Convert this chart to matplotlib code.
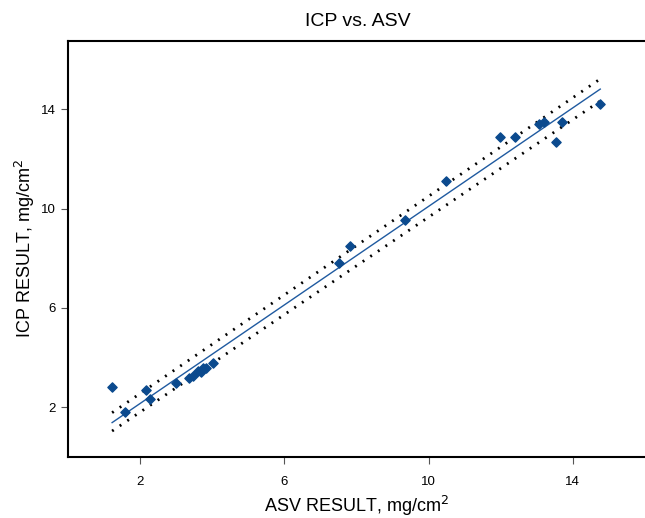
import matplotlib.pyplot as plt
import numpy as np

plt.rcParams['font.family'] = ['Liberation Sans', 'DejaVu Sans']

# ASV vs ICP results (mg/cm^2)
asv = [1.23, 1.60, 2.16, 2.28, 3.01, 3.35, 3.46, 3.60, 3.69, 3.75, 3.82, 4.03,
       7.52, 7.83, 9.35, 10.49, 11.97, 12.40, 13.05, 13.21, 13.53, 13.69, 14.76]
icp = [2.81, 1.80, 2.70, 2.35, 2.97, 3.18, 3.25, 3.45, 3.42, 3.57, 3.58, 3.80,
       7.80, 8.51, 9.54, 11.09, 12.89, 12.89, 13.40, 13.50, 12.69, 13.49, 14.19]

# fitted line and band ends
fit_x = [1.23, 14.76]
fit_y = [1.38, 14.81]
upper_y = [1.78, 15.22]
lower_y = [1.04, 14.33]

ticks = [2, 6, 10, 14]

fig = plt.figure(figsize=(6.45, 5.18), dpi=100)
ax = fig.add_axes([0.105, 0.118, 0.895, 0.803])

ax.plot(fit_x, upper_y, color='black', lw=2, dashes=(0.7, 2.6))
ax.plot(fit_x, lower_y, color='black', lw=2, dashes=(0.7, 2.6))
ax.plot(fit_x, fit_y, color='#1f5aa0', lw=1)
ax.scatter(asv, icp, marker='D', s=22, color='#0b4a8e', zorder=3)

ax.set_xlim(0, 16)
ax.set_ylim(0, 16.75)
ax.set_xticks(ticks)
ax.set_yticks(ticks)
ax.tick_params(labelsize=9.5, length=5, color='#555555')
ax.tick_params(axis='x', pad=9)
ax.spines['right'].set_visible(False)
for s in ['left', 'bottom', 'top']:
    ax.spines[s].set_linewidth(1.5)

ax.set_xlabel('ASV RESULT, mg/cm$^2$', fontsize=13, labelpad=4)
ax.set_ylabel('ICP RESULT, mg/cm$^2$', fontsize=13, labelpad=3)
ax.set_title('ICP vs. ASV', fontsize=14, x=0.503, pad=11)

fig.savefig('out.png', dpi=100)
